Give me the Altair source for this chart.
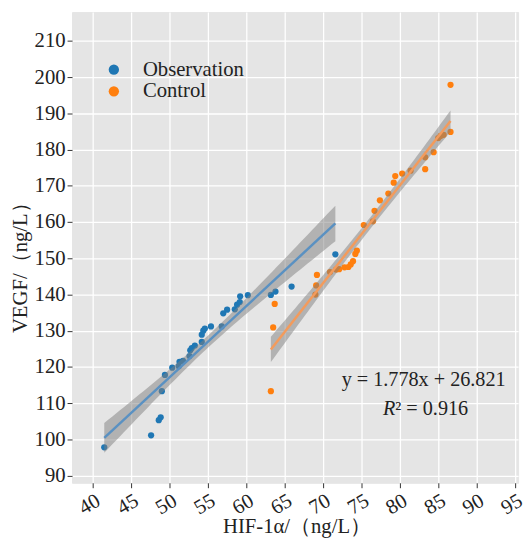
import numpy as np
import pandas as pd
import altair as alt

# ---- data ----
obs_x = [41.5, 47.6, 48.6, 48.85, 49.0, 49.4, 50.35, 51.2, 51.3, 51.75, 52.6, 52.7,
         52.9, 53.3, 54.2, 54.2, 54.4, 54.6, 55.4, 56.8, 57.0, 57.5, 58.5, 58.8,
         59.15, 59.2, 60.2, 63.2, 63.8, 65.9, 71.6]
obs_y = [97.8, 101.1, 105.3, 106.1, 113.3, 117.8, 119.8, 120.2, 121.4, 121.7, 123.0, 124.6,
         125.2, 125.9, 126.9, 128.9, 130.0, 130.6, 131.2, 131.2, 134.8, 135.8, 135.9, 137.2,
         137.9, 139.5, 139.8, 139.9, 140.8, 142.2, 151.1]

ctl_x = [63.2, 63.5, 63.7, 69.0, 69.1, 69.2, 70.9, 71.7, 72.1, 72.8, 73.3, 73.6,
         73.9, 74.2, 74.4, 75.3, 76.5, 76.7, 77.4, 78.5, 79.2, 79.4, 80.3, 81.4,
         83.3, 83.3, 84.4, 85.0, 85.3, 85.7, 86.6, 86.6]
ctl_y = [113.3, 130.9, 137.4, 140.0, 142.5, 145.4, 146.2, 146.9, 147.0, 147.5, 147.6, 148.3,
         149.2, 151.2, 152.1, 159.2, 160.2, 163.1, 166.0, 167.9, 170.9, 172.7, 173.4, 174.2,
         174.6, 177.9, 179.3, 183.2, 183.8, 184.1, 184.9, 197.9]

groups = ["Observation", "Control"]
colors = ["#1f77b4", "#ff7f0e"]
line_colors = ["#5a91c2", "#f39b5c"]
x_ticks = [40, 45, 50, 55, 60, 65, 70, 75, 80, 85, 90, 95]
y_ticks = [90, 100, 110, 120, 130, 140, 150, 160, 170, 180, 190, 200, 210]
eq_text = "y = 1.778x + 26.821"
r_text = "R"
r2_text = "\u00b2 = 0.916"

FONT = "Liberation Serif"
FS = 21

pts = pd.concat([
    pd.DataFrame({"group": groups[0], "x": obs_x, "y": obs_y}),
    pd.DataFrame({"group": groups[1], "x": ctl_x, "y": ctl_y}),
], ignore_index=True)


def ci_band(xs, ys, name):
    x = np.array(xs)
    y = np.array(ys)
    n = len(x)
    b, a = np.polyfit(x, y, 1)
    xg = np.linspace(x.min(), x.max(), 60)
    yhat = a + b * xg
    resid = y - (a + b * x)
    s = np.sqrt(np.sum(resid ** 2) / (n - 2))
    sxx = np.sum((x - x.mean()) ** 2)
    se = s * np.sqrt(1.0 / n + (xg - x.mean()) ** 2 / sxx)
    t = 2.04
    return pd.DataFrame({"group": name, "x": xg, "y": yhat - t * se, "hi": yhat + t * se})


band = pd.concat([ci_band(obs_x, obs_y, groups[0]), ci_band(ctl_x, ctl_y, groups[1])],
                 ignore_index=True)

# annotation anchors in data units
ann = pd.DataFrame({
    "x": [83.1, 79.4, 79.4],
    "y": [114.8, 106.6, 106.6],
    "t": [eq_text, r_text, r2_text],
    "k": ["eq", "r", "r2"],
})

xscale = alt.Scale(domain=[37.3, 95.4], nice=False, zero=False)
yscale = alt.Scale(domain=[88, 218], nice=False, zero=False)
cscale = alt.Scale(domain=groups, range=colors)

common_axis = dict(
    grid=True, gridColor="#FFFFFF", gridWidth=1.3, domain=False,
    tickColor="#333333", tickSize=5, tickWidth=1, labelOverlap=False,
    labelFont=FONT, labelFontSize=FS, labelColor="#222222", labelPadding=2,
    titleFont=FONT, titleFontSize=FS, titleColor="#222222", titleFontWeight="normal",
)

xaxis = alt.Axis(values=x_ticks, tickCount=12, title="HIF-1α/（ng/L）", labelAngle=-30,
                 labelAlign="right", labelBaseline="top", titleX=228, titleY=50,
                 titleBaseline="alphabetic", titleAlign="center", **common_axis)
yaxis = alt.Axis(values=y_ticks, tickCount=13, title="VEGF/（ng/L）", titleX=-46, titleY=254,
                 titleBaseline="alphabetic", titleAlign="center", titleAngle=270,
                 **common_axis)

X = alt.X("x:Q", scale=xscale, axis=xaxis)
Y = alt.Y("y:Q", scale=yscale, axis=yaxis)

points = alt.Chart(pts).mark_circle(size=40, opacity=1).encode(
    x=X,
    y=Y,
    color=alt.Color("group:N", scale=cscale, sort=groups,
                    legend=alt.Legend(title=None, orient="none", legendX=32, legendY=48,
                                      symbolType="circle", symbolSize=110,
                                      labelFont=FONT, labelFontSize=FS, labelColor="#222",
                                      labelOffset=19, rowPadding=0, padding=0,
                                      symbolStrokeWidth=0)),
)

bands = alt.Chart(band).mark_area(color="#808080", opacity=0.5).encode(
    x=X, y=Y, y2="hi:Q", detail="group:N"
)

lines = alt.Chart(pts).transform_regression("x", "y", groupby=["group"]).mark_line(
    strokeWidth=2.5
).encode(
    x=X, y=Y,
    stroke=alt.Stroke("group:N", scale=alt.Scale(domain=groups, range=line_colors),
                      legend=None),
)

base_ann = alt.Chart(ann)
eq = base_ann.transform_filter(alt.datum.k == "eq").mark_text(
    font=FONT, fontSize=20.5, color="#222", align="center", baseline="alphabetic"
).encode(x=X, y=Y, text="t:N")

rlab = base_ann.transform_filter(alt.datum.k == "r").mark_text(
    font=FONT, fontSize=20.5, fontStyle="italic", color="#222", align="right",
    baseline="alphabetic"
).encode(x=X, y=Y, text="t:N")

r2lab = base_ann.transform_filter(alt.datum.k == "r2").mark_text(
    font=FONT, fontSize=20.5, color="#222", align="left", baseline="alphabetic"
).encode(x=X, y=Y, text="t:N")

chart = alt.layer(points, bands, lines, eq, rlab, r2lab).resolve_scale(
    color="independent", stroke="independent"
).properties(
    width=453, height=478,
    autosize=alt.AutoSizeParams(type="none"),
    padding={"left": 65, "top": 0, "right": 6, "bottom": 58},
).configure(
    font=FONT
).configure_view(
    fill="#E5E5E5", stroke="#E5E5E5"
).configure_axis(**common_axis)

chart.save("out.html", embed_options={"renderer": "svg", "actions": False})
